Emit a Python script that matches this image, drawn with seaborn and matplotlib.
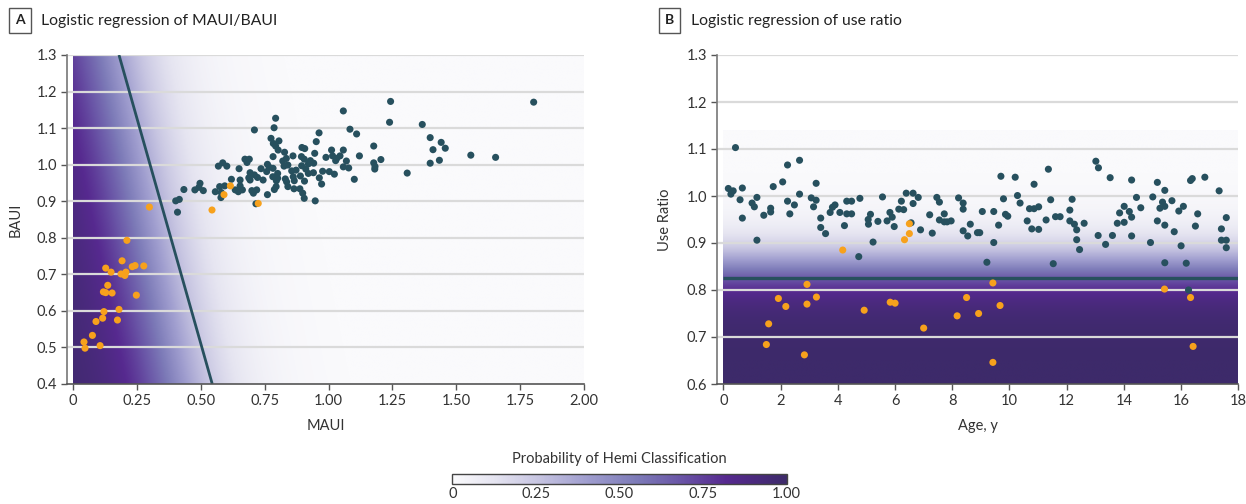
import numpy as np
import pandas as pd
import matplotlib
matplotlib.use("Agg")
import matplotlib.pyplot as plt
from matplotlib.colors import LinearSegmentedColormap, Normalize
from matplotlib.cm import ScalarMappable
import seaborn as sns

# ---------------- data ----------------
# Panel A: non-hemi (teal) MAUI / BAUI
maui_nonhemi = [1.058, 0.793, 0.787, 0.710, 1.084, 1.110, 0.963, 0.775, 0.806, 0.784, 0.952, 0.793,
                0.803, 0.896, 0.907, 0.828, 0.946, 1.012, 1.058, 0.990, 0.673, 0.690, 0.681, 0.783,
                0.835, 0.861, 0.894, 0.905, 0.821, 0.929, 1.016, 1.028, 1.032, 1.121, 0.586, 0.569,
                0.602, 0.650, 0.761, 0.768, 0.783, 0.826, 0.841, 0.895, 0.921, 0.942, 0.736, 0.758,
                0.801, 0.856, 0.873, 0.911, 0.977, 1.003, 1.023, 1.058, 1.079, 0.693, 0.710, 0.688,
                0.722, 0.782, 0.801, 0.831, 0.862, 0.890, 0.921, 0.941, 0.964, 0.654, 0.693, 0.744,
                0.796, 0.836, 0.866, 0.906, 0.973, 1.101, 0.620, 0.497, 0.493, 0.510, 0.434, 0.557,
                0.574, 0.594, 0.654, 0.635, 0.647, 0.663, 0.700, 0.719, 0.788, 0.795, 0.841, 0.865,
                0.888, 0.706, 0.761, 0.899, 0.905, 0.948, 0.579, 0.580, 0.416, 0.402, 0.409, 0.716,
                0.477, 1.243, 1.239, 1.367, 1.803, 1.045, 1.070, 1.177, 1.177, 1.182, 1.181, 1.205,
                1.308, 1.398, 1.441, 1.409, 1.457, 1.398, 1.434, 1.557, 1.654]
baui_nonhemi = [1.147, 1.127, 1.101, 1.095, 1.097, 1.084, 1.087, 1.072, 1.065, 1.058, 1.063, 1.051,
                1.040, 1.047, 1.044, 1.034, 1.031, 1.040, 1.040, 1.020, 1.015, 1.015, 1.006, 1.022,
                1.017, 1.024, 1.022, 1.015, 1.010, 1.011, 1.024, 1.011, 1.017, 1.024, 1.005, 0.996,
                0.996, 0.989, 1.001, 0.993, 0.990, 0.996, 0.999, 0.997, 1.002, 1.004, 0.989, 0.981,
                0.976, 0.983, 0.985, 0.988, 0.982, 0.981, 0.974, 0.994, 0.991, 0.978, 0.972, 0.964,
                0.965, 0.967, 0.963, 0.961, 0.967, 0.969, 0.976, 0.978, 0.964, 0.958, 0.958, 0.958,
                0.956, 0.953, 0.956, 0.955, 0.947, 0.960, 0.960, 0.949, 0.938, 0.929, 0.932, 0.926,
                0.940, 0.942, 0.942, 0.931, 0.926, 0.931, 0.929, 0.931, 0.932, 0.940, 0.940, 0.934,
                0.934, 0.922, 0.918, 0.922, 0.908, 0.901, 0.910, 0.924, 0.905, 0.901, 0.870, 0.893,
                0.931, 1.173, 1.116, 1.110, 1.171, 1.024, 1.010, 1.051, 1.005, 0.995, 0.988, 1.014,
                0.977, 1.074, 1.061, 1.041, 1.045, 1.004, 1.012, 1.026, 1.020]
# Panel A: hemi (orange)
maui_hemi = [0.299, 0.544, 0.725, 0.616, 0.591, 0.211, 0.192, 0.128, 0.149, 0.188, 0.207, 0.203,
             0.232, 0.243, 0.277, 0.136, 0.119, 0.128, 0.153, 0.248, 0.180, 0.121, 0.116, 0.174,
             0.090, 0.076, 0.043, 0.047, 0.106]
baui_hemi = [0.884, 0.876, 0.894, 0.942, 0.918, 0.793, 0.737, 0.717, 0.706, 0.701, 0.706, 0.697,
             0.721, 0.724, 0.723, 0.670, 0.652, 0.650, 0.649, 0.643, 0.604, 0.598, 0.580, 0.575,
             0.571, 0.533, 0.515, 0.498, 0.505]

# Panel B: non-hemi (teal) age / use ratio
age_nonhemi = [0.42, 0.17, 0.34, 0.26, 0.66, 0.58, 0.66, 1.00, 1.08, 1.17, 1.17, 1.41, 1.65, 1.65,
               1.74, 2.07, 2.24, 2.66, 2.24, 2.32, 2.48, 2.66, 3.07, 3.24, 3.24, 3.15, 3.40, 3.40,
               3.57, 3.73, 3.81, 3.90, 4.07, 4.23, 4.31, 4.48, 4.31, 4.48, 4.77, 5.06, 5.07, 5.14,
               5.23, 5.40, 5.56, 5.72, 5.82, 5.90, 5.97, 6.13, 4.73,
               6.30, 6.22, 6.39, 6.63, 6.63, 6.81, 6.56, 6.89, 7.21, 7.30, 7.46, 7.55, 7.72, 7.55,
               7.72, 7.82, 7.96, 8.22, 8.38, 8.38, 8.63, 8.38, 8.54, 8.88, 8.96, 9.05, 9.45, 9.45,
               9.62, 9.21, 9.70, 9.79, 9.86, 9.94, 10.20, 10.28, 10.37, 10.62, 10.70, 10.78, 10.86,
               10.86, 11.02, 11.02, 11.28, 11.36, 11.44, 11.61, 11.77, 11.53,
               12.19, 12.11, 12.11, 12.27, 12.35, 12.61, 12.35, 12.45, 13.02, 13.11, 13.52, 13.10,
               13.36, 13.60, 13.77, 13.85, 14.01, 14.01, 14.19, 14.27, 14.27, 14.27, 14.44, 14.59,
               14.93, 15.01, 15.17, 15.17, 15.26, 15.35, 15.43, 15.43, 15.43, 15.43, 15.68, 15.76,
               15.92, 16.00, 16.08, 16.18, 16.33, 16.39, 16.50, 16.58, 16.83, 17.33, 17.41, 17.41,
               17.58, 17.58, 17.58, 16.26]
ratio_nonhemi = [1.103, 1.016, 1.011, 1.004, 1.017, 0.992, 0.953, 0.985, 0.977, 0.997, 0.906, 0.959,
                 0.974, 0.966, 1.020, 1.030, 1.066, 1.076, 0.989, 0.962, 0.981, 1.004, 0.996, 0.991,
                 1.027, 0.977, 0.953, 0.933, 0.920, 0.965, 0.976, 0.981, 0.965, 0.937, 0.989, 0.989,
                 0.962, 0.962, 0.995, 0.950, 0.940, 0.961, 0.902, 0.946, 0.998, 0.947, 0.965, 0.955,
                 0.935, 0.972, 0.871,
                 0.971, 0.989, 1.006, 1.006, 0.984, 0.997, 0.943, 0.928, 0.960, 0.921, 0.997, 0.987,
                 0.962, 0.949, 0.945, 0.945, 0.947, 0.996, 0.985, 0.972, 0.940, 0.926, 0.915, 0.922,
                 0.922, 0.967, 0.967, 0.901, 0.938, 0.859, 1.042, 0.994, 0.961, 0.957, 1.040, 1.001,
                 0.985, 0.947, 0.973, 0.930, 0.973, 1.025, 0.977, 0.929, 0.949, 1.057, 0.992, 0.956,
                 0.956, 0.856,
                 0.993, 0.970, 0.947, 0.940, 0.928, 0.942, 0.907, 0.886, 1.074, 1.060, 1.039, 0.916,
                 0.897, 0.916, 0.942, 0.964, 0.978, 0.944, 0.967, 0.955, 0.915, 1.034, 0.997, 0.975,
                 0.901, 0.998, 1.029, 0.947, 0.974, 0.987, 1.012, 0.978, 0.938, 0.858, 0.990, 0.924,
                 0.968, 0.894, 0.978, 0.857, 1.033, 1.037, 0.936, 0.962, 1.040, 1.011, 0.930, 0.906,
                 0.906, 0.954, 0.890, 0.800]
# Panel B: hemi (orange)
age_hemi = [4.17, 6.50, 6.50, 6.33, 2.92, 1.92, 2.18, 2.92, 3.25, 1.58, 1.50, 2.83, 4.92, 5.83,
            6.00, 7.00, 8.17, 8.50, 8.92, 9.42, 9.67, 9.42, 15.42, 16.33, 16.42]
ratio_hemi = [0.885, 0.941, 0.920, 0.907, 0.812, 0.782, 0.765, 0.770, 0.785, 0.728, 0.684, 0.662,
              0.757, 0.774, 0.772, 0.719, 0.745, 0.784, 0.750, 0.815, 0.767, 0.646, 0.802, 0.784,
              0.680]

# decision boundaries
boundary_maui = [0.180, 0.545]
boundary_baui = [1.30, 0.40]
boundary_ratio = 0.825

# logistic surfaces (probability of hemi classification)
coef_a = {"intercept": 4.10, "maui": -8.0, "baui": -2.35}
coef_b = {"center": 0.85, "slope": -28.0}

groups = ["Non-hemi", "Hemi"]
xticks_a = [0, 0.25, 0.5, 0.75, 1.0, 1.25, 1.5, 1.75, 2.0]
xticklabels_a = ["0", "0.25", "0.50", "0.75", "1.00", "1.25", "1.50", "1.75", "2.00"]
yticks_a = [0.4, 0.5, 0.6, 0.7, 0.8, 0.9, 1.0, 1.1, 1.2, 1.3]
xticks_b = list(range(0, 19, 2))
yticks_b = [0.6, 0.7, 0.8, 0.9, 1.0, 1.1, 1.2, 1.3]
cbar_ticks = [0, 0.25, 0.5, 0.75, 1.0]
cbar_ticklabels = ["0", "0.25", "0.50", "0.75", "1.00"]

# ---------------- style ----------------
sns.set_theme(style="white")
plt.rcParams["font.family"] = ["Lato", "DejaVu Sans"]

TEAL = "#27505e"
ORANGE = "#f7a11c"
GRID = "#dadada"
TXT = "#333333"
cmap = LinearSegmentedColormap.from_list(
    "hemi",
    [(0.0, "#fafafc"), (0.12, "#e6e5f1"), (0.25, "#c8c6e2"), (0.4, "#a09ecf"),
     (0.55, "#7d7bb8"), (0.68, "#6a56a7"), (0.82, "#56298f"), (1.0, "#3d2a6a")])
palette = {"Non-hemi": TEAL, "Hemi": ORANGE}

fig = plt.figure(figsize=(12.46, 5.04), dpi=100)
fig.patch.set_facecolor("white")
axA = fig.add_axes([67 / 1246, 1 - 384 / 504, (584 - 67) / 1246, (384 - 55) / 504])
axB = fig.add_axes([716.6 / 1246, 1 - 384 / 504, (1238.3 - 716.6) / 1246, (384 - 55) / 504])

# --- Panel A background ---
mg, bg = np.meshgrid(np.linspace(0, 2, 500), np.linspace(0.4, 1.3, 300))
pA = 1 / (1 + np.exp(-(coef_a["intercept"] + coef_a["maui"] * mg + coef_a["baui"] * bg)))
axA.imshow(pA, extent=[0, 2, 0.4, 1.3], origin="lower", aspect="auto", cmap=cmap,
           vmin=0, vmax=1, zorder=0, interpolation="bilinear")

# --- Panel B background ---
ry = np.linspace(0.6, 1.14, 400)
pB = 1 / (1 + np.exp(-coef_b["slope"] * (ry - coef_b["center"])))
axB.imshow(pB[:, None] * np.ones((1, 10)), extent=[0, 18, 0.6, 1.14], origin="lower",
           aspect="auto", cmap=cmap, vmin=0, vmax=1, zorder=0, interpolation="bilinear")

dfA = pd.concat([
    pd.DataFrame({"MAUI": maui_nonhemi, "BAUI": baui_nonhemi, "group": groups[0]}),
    pd.DataFrame({"MAUI": maui_hemi, "BAUI": baui_hemi, "group": groups[1]}),
], ignore_index=True)
dfB = pd.concat([
    pd.DataFrame({"Age": age_nonhemi, "Ratio": ratio_nonhemi, "group": groups[0]}),
    pd.DataFrame({"Age": age_hemi, "Ratio": ratio_hemi, "group": groups[1]}),
], ignore_index=True)

for ax, yt in ((axA, yticks_a), (axB, yticks_b)):
    for y in yt[1:]:
        ax.axhline(y, color=GRID, lw=1.6, zorder=1)

axA.plot(boundary_maui, boundary_baui, color=TEAL, lw=2.0, zorder=2, solid_capstyle="butt")
axB.plot([0, 18], [boundary_ratio, boundary_ratio], color=TEAL, lw=2.4, zorder=2,
         solid_capstyle="butt")

sns.scatterplot(data=dfA, x="MAUI", y="BAUI", hue="group", palette=palette, s=26,
                linewidth=0, legend=False, ax=axA, zorder=3)
sns.scatterplot(data=dfB, x="Age", y="Ratio", hue="group", palette=palette, s=26,
                linewidth=0, legend=False, ax=axB, zorder=3)

axA.set_xlim(-0.0235, 2.0)
axA.set_ylim(0.4, 1.3)
axB.set_xlim(-0.24, 18)
axB.set_ylim(0.6, 1.3)

axA.set_xticks(xticks_a)
axA.set_xticklabels(xticklabels_a)
axA.set_yticks(yticks_a)
axA.set_yticklabels([f"{v:.1f}" for v in yticks_a])
axB.set_xticks(xticks_b)
axB.set_xticklabels([str(v) for v in xticks_b])
axB.set_yticks(yticks_b)
axB.set_yticklabels([f"{v:.1f}" for v in yticks_b])

for ax in (axA, axB):
    ax.set_facecolor("white")
    for s in ("top", "right"):
        ax.spines[s].set_visible(False)
    ax.spines["left"].set_color("#777777")
    ax.spines["bottom"].set_color("#555555")
    ax.spines["left"].set_linewidth(1.2)
    ax.spines["bottom"].set_linewidth(1.2)
    ax.tick_params(axis="both", direction="out", length=4, width=1, color="#555555",
                   labelsize=10.5, labelcolor=TXT, pad=3, left=True, bottom=True)
    ax.grid(False)

axA.set_xlabel("MAUI", fontsize=10.5, color=TXT, labelpad=8)
axA.set_ylabel("BAUI", fontsize=10.5, color=TXT, labelpad=10)
axB.set_xlabel("Age, y", fontsize=10.5, color=TXT, labelpad=8)
axB.set_ylabel("Use Ratio", fontsize=10.5, color=TXT, labelpad=10)

# panel titles
box = dict(boxstyle="square,pad=0.45", fc="white", ec="#555555", lw=1)
fig.text(19.8 / 1246, 1 - 20.5 / 504, "A", ha="center", va="center", fontsize=10,
         fontweight="bold", color="#222222", bbox=box)
fig.text(41 / 1246, 1 - 20.5 / 504, "Logistic regression of MAUI/BAUI", ha="left",
         va="center", fontsize=11.3, color="#222222")
fig.text(669.5 / 1246, 1 - 20.5 / 504, "B", ha="center", va="center", fontsize=10,
         fontweight="bold", color="#222222", bbox=box)
fig.text(691 / 1246, 1 - 20.5 / 504, "Logistic regression of use ratio", ha="left",
         va="center", fontsize=11.3, color="#222222")

# colorbar
cax = fig.add_axes([452.3 / 1246, 1 - 484.3 / 504, (786.7 - 452.3) / 1246, 10 / 504])
cb = fig.colorbar(ScalarMappable(norm=Normalize(0, 1), cmap=cmap), cax=cax,
                  orientation="horizontal")
cb.set_ticks(cbar_ticks)
cb.set_ticklabels(cbar_ticklabels)
cb.outline.set_edgecolor("#444444")
cb.outline.set_linewidth(1)
cax.tick_params(length=0, labelsize=10.5, labelcolor=TXT, pad=2)
cax.set_title("Probability of Hemi Classification", fontsize=10.5, color=TXT, pad=8)

fig.savefig("out.png", dpi=100, facecolor="white")
